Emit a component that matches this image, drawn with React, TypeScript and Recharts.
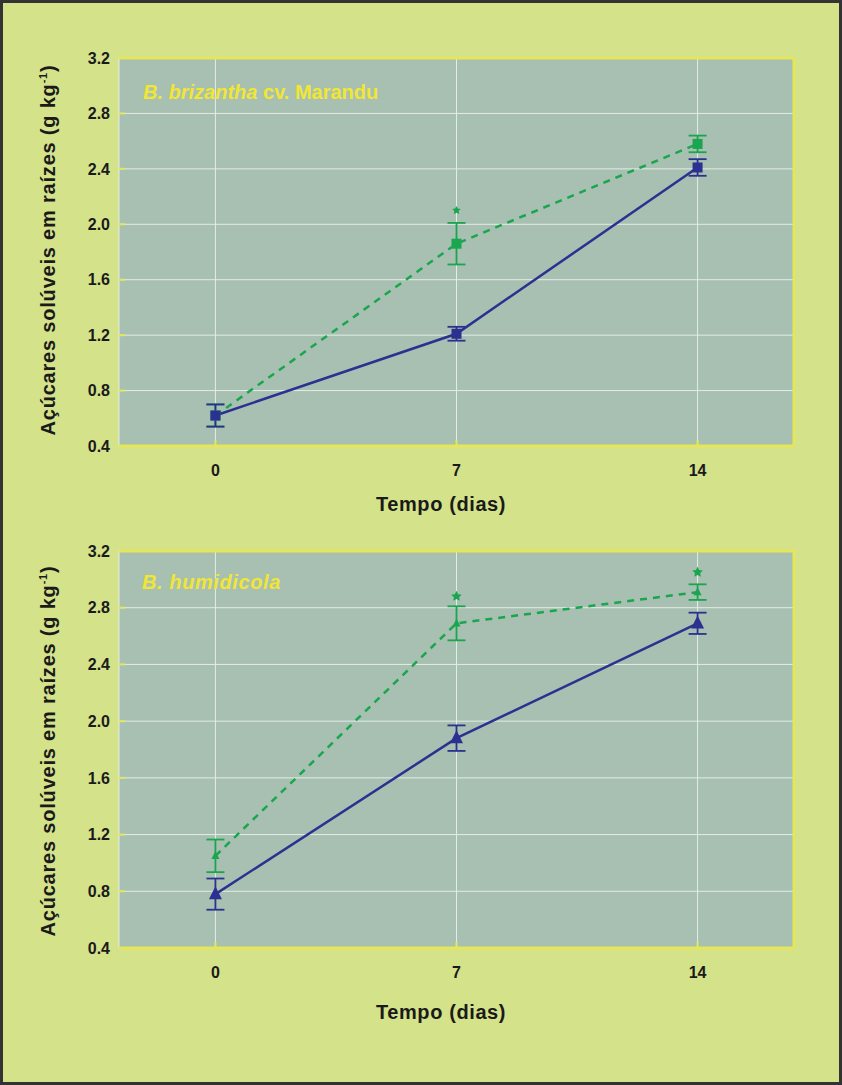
import React from "react";
import { ComposedChart, Line, XAxis, YAxis, CartesianGrid, ErrorBar } from "recharts";

const days = [0, 7, 14];
const yTicks = [0.4, 0.8, 1.2, 1.6, 2.0, 2.4, 2.8, 3.2];

// B. brizantha cv. Marandu
const brizBlue = [0.62, 1.21, 2.41];
const brizBlueErr = [0.08, 0.05, 0.06];
const brizGreen = [0.62, 1.86, 2.58];
const brizGreenErr = [0.08, 0.15, 0.06];
const brizSig = [null, 2.1, null];

// B. humidicola
const humBlue = [0.78, 1.88, 2.69];
const humBlueErr = [0.11, 0.09, 0.075];
const humGreen = [1.05, 2.69, 2.91];
const humGreenErr = [0.115, 0.12, 0.055];
const humSig = [null, 2.88, 3.05];

const BG = "#d4e28a";
const PLOT = "#a7c0b1";
const YEL = "#e6e65a";
const BLUE = "#2b3190";
const GREEN = "#1aa54f";
const FONT = "'Liberation Sans', Arial, sans-serif";

const rows = (b: number[], be: number[], g: number[], ge: number[], s: (number | null)[]) =>
  days.map((d, i) => ({ day: d, blue: b[i], blueErr: be[i], green: g[i], greenErr: ge[i], sig: s[i] }));

function marker(kind: string, size: number, color: string) {
  return (p: any) => {
    const { cx, cy, value, index } = p;
    if (cx == null || cy == null || value == null) return <g key={index} />;
    const h = size / 2;
    if (kind === "square")
      return <rect key={index} x={cx - h} y={cy - h} width={size} height={size} fill={color} />;
    if (kind === "triangle")
      return (
        <polygon
          key={index}
          points={`${cx},${cy - size * 0.6} ${cx - h},${cy + size * 0.4} ${cx + h},${cy + size * 0.4}`}
          fill={color}
        />
      );
    // star
    const pts: string[] = [];
    for (let k = 0; k < 10; k++) {
      const r = k % 2 === 0 ? h : h * 0.5;
      const a = -Math.PI / 2 + (k * Math.PI) / 5;
      pts.push(`${cx + r * Math.cos(a)},${cy + r * Math.sin(a)}`);
    }
    return <polygon key={index} points={pts.join(" ")} fill={color} />;
  };
}

const tickFont = { fill: "#1a1a1a", fontSize: 16, fontWeight: 700, fontFamily: FONT };

function Panel({ data, kind, top, height, mTop, mBottom, greenSize, blueSize, starSize }: any) {
  // plot area: x 119..794, y mTop..height-mBottom
  return (
    <div style={{ position: "absolute", left: 0, top, width: 842, height }}>
      <ComposedChart
        width={842}
        height={height}
        data={data}
        margin={{ top: mTop - 2, right: 46, bottom: mBottom - 30, left: 59 }}
      >
        <CartesianGrid fill={PLOT} stroke="#e4ece6" strokeWidth={1} />
        <XAxis
          dataKey="day"
          type="number"
          domain={[-2.8, 16.8]}
          ticks={days}
          height={30}
          tickSize={-6}
          tickMargin={25}
          axisLine={{ stroke: YEL, strokeWidth: 3 }}
          tickLine={{ stroke: YEL, strokeWidth: 2 }}
          tick={tickFont}
        />
        <XAxis
          xAxisId="top"
          orientation="top"
          type="number"
          domain={[-2.8, 16.8]}
          ticks={days}
          height={2}
          tickSize={-6}
          tick={false}
          axisLine={{ stroke: YEL, strokeWidth: 3 }}
          tickLine={{ stroke: YEL, strokeWidth: 2 }}
        />
        <YAxis
          type="number"
          domain={[0.4, 3.2]}
          ticks={yTicks}
          width={60}
          tickSize={-6}
          tickMargin={15}
          axisLine={false}
          tickLine={{ stroke: YEL, strokeWidth: 2 }}
          tickFormatter={(v: number) => v.toFixed(1)}
          tick={tickFont}
        />
        <YAxis
          yAxisId="right"
          orientation="right"
          type="number"
          domain={[0.4, 3.2]}
          ticks={yTicks}
          width={2}
          tickSize={-6}
          tick={false}
          axisLine={{ stroke: YEL, strokeWidth: 3 }}
          tickLine={{ stroke: YEL, strokeWidth: 2 }}
        />
        <Line
          dataKey="green"
          stroke={GREEN}
          strokeWidth={2.5}
          strokeDasharray="7 6"
          dot={marker(kind, greenSize, GREEN)}
          activeDot={false}
          isAnimationActive={false}
        >
          <ErrorBar dataKey="greenErr" width={9} stroke={GREEN} strokeWidth={1.8} direction="y" />
        </Line>
        <Line
          dataKey="blue"
          stroke={BLUE}
          strokeWidth={2.5}
          dot={marker(kind, blueSize, BLUE)}
          activeDot={false}
          isAnimationActive={false}
        >
          <ErrorBar dataKey="blueErr" width={9} stroke={BLUE} strokeWidth={1.8} direction="y" />
        </Line>
        <Line
          dataKey="sig"
          stroke="none"
          dot={marker("star", starSize, GREEN)}
          activeDot={false}
          isAnimationActive={false}
        />
      </ComposedChart>
    </div>
  );
}

const txt: React.CSSProperties = {
  position: "absolute",
  fontFamily: FONT,
  fontWeight: 700,
  whiteSpace: "nowrap",
};

function YLabel({ cy }: { cy: number }) {
  return (
    <div
      style={{
        ...txt,
        left: 48,
        top: cy,
        fontSize: 20,
        letterSpacing: 0.8,
        color: "#1a1a1a",
        transform: "translate(-50%, -50%) rotate(-90deg)",
      }}
    >
      Açúcares solúveis em raízes (g kg<sup style={{ fontSize: 11 }}>-1</sup>)
    </div>
  );
}

function XLabel({ cy }: { cy: number }) {
  return (
    <div
      style={{
        ...txt,
        left: 441,
        top: cy,
        fontSize: 20,
        letterSpacing: 0.6,
        color: "#1a1a1a",
        transform: "translate(-50%, -50%)",
      }}
    >
      Tempo (dias)
    </div>
  );
}

export default function App() {
  return (
    <div style={{ position: "absolute", left: 0, top: 0, width: 842, height: 1085, background: BG, overflow: "hidden" }}>
      <Panel
        data={rows(brizBlue, brizBlueErr, brizGreen, brizGreenErr, brizSig)}
        kind="square"
        top={0}
        height={520}
        mTop={58}
        mBottom={74}
        greenSize={10}
        blueSize={10}
        starSize={9}
      />
      <Panel
        data={rows(humBlue, humBlueErr, humGreen, humGreenErr, humSig)}
        kind="triangle"
        top={500}
        height={560}
        mTop={51}
        mBottom={112}
        greenSize={8}
        blueSize={13}
        starSize={11}
      />
      <div style={{ ...txt, left: 143, top: 92, fontSize: 20, color: "#f2e635", transform: "translateY(-50%)" }}>
        <i>B. brizantha</i> cv. Marandu
      </div>
      <div
        style={{
          ...txt,
          left: 142,
          top: 582,
          fontSize: 20,
          letterSpacing: 0.6,
          color: "#f2e635",
          transform: "translateY(-50%)",
        }}
      >
        <i>B. humidicola</i>
      </div>
      <YLabel cy={250} />
      <YLabel cy={751} />
      <XLabel cy={504} />
      <XLabel cy={1012} />
      <div
        style={{
          position: "absolute",
          left: 0,
          top: 0,
          width: 842,
          height: 1085,
          border: "3px solid #333",
          boxSizing: "border-box",
          pointerEvents: "none",
        }}
      />
    </div>
  );
}
